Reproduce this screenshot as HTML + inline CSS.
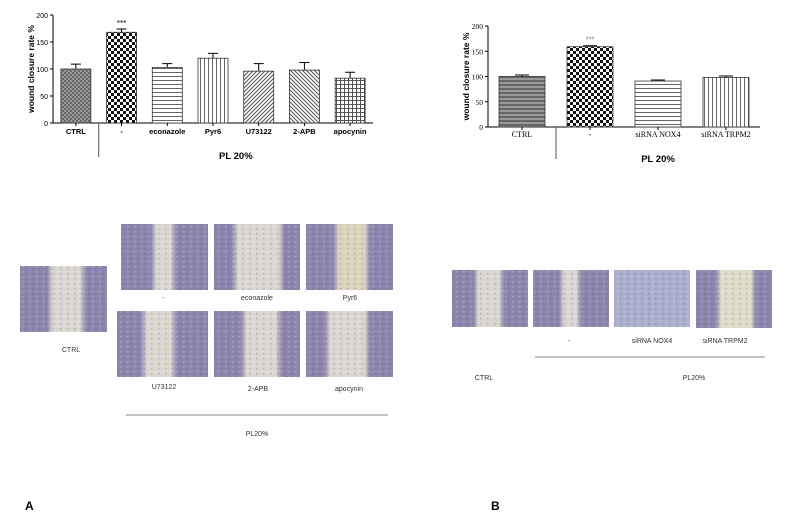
<!DOCTYPE html>
<html><head><meta charset="utf-8"><style>
body{margin:0;background:#fff;}
svg{display:block;font-family:"Liberation Sans",sans-serif;}
</style></head><body>
<svg id="fig" width="790" height="531" viewBox="0 0 790 531">
<defs>
<pattern id="pCtrl" width="4" height="4" patternUnits="userSpaceOnUse"><rect width="4" height="4" fill="#999"/><rect width="2" height="2" fill="#666"/><rect x="2" y="2" width="2" height="2" fill="#666"/></pattern>
<pattern id="pCheck" width="6" height="6" patternUnits="userSpaceOnUse"><rect width="6" height="6" fill="#fff"/><rect width="3" height="3" fill="#111"/><rect x="3" y="3" width="3" height="3" fill="#111"/></pattern>
<pattern id="pH" width="4" height="4" patternUnits="userSpaceOnUse"><rect width="4" height="4" fill="#fff"/><rect width="4" height="1" fill="#666"/></pattern>
<pattern id="pV" width="4" height="4" patternUnits="userSpaceOnUse"><rect width="4" height="4" fill="#fff"/><rect width="1" height="4" fill="#666"/></pattern>
<pattern id="pD1" width="4" height="4" patternUnits="userSpaceOnUse"><rect width="4" height="4" fill="#fff"/><path d="M0 4L4 0M-1 1L1 -1M3 5L5 3" stroke="#555" stroke-width="1"/></pattern>
<pattern id="pD2" width="4" height="4" patternUnits="userSpaceOnUse"><rect width="4" height="4" fill="#fff"/><path d="M0 0L4 4M-1 3L1 5M3 -1L5 1" stroke="#555" stroke-width="1"/></pattern>
<pattern id="pGrid" width="4" height="4" patternUnits="userSpaceOnUse"><rect width="4" height="4" fill="#fff"/><rect width="4" height="1" fill="#555"/><rect width="1" height="4" fill="#555"/></pattern>
<pattern id="pCtrlB" width="4" height="4" patternUnits="userSpaceOnUse"><rect width="4" height="4" fill="#999"/><rect width="4" height="2" fill="#666"/></pattern>
<pattern id="speck" width="7" height="5" patternUnits="userSpaceOnUse"><rect x="1" y="1" width="1.5" height="1.5" fill="#fff" opacity="0.25"/><rect x="4" y="3" width="1.5" height="1.5" fill="#4a4470" opacity="0.25"/></pattern>
</defs>
<g id="chartA"></g>
<g id="chartB"></g>
<g id="photos"></g>
<text x="25" y="510" font-size="12" font-weight="bold">A</text>
<text x="491" y="510" font-size="12" font-weight="bold">B</text>
</svg>
<script>
const catsA=["CTRL","-","econazole","Pyr6","U73122","2-APB","apocynin"];
const valsA=[100,168,103,120,96,98,83];
const errsA=[9,6,7,9,14,14,11];
const catsB=["CTRL","-","siRNA NOX4","siRNA TRPM2"];
const valsB=[100,159,91,98];
const errsB=[3,2,2,3];
const ticks=[0,50,100,150,200];
const NS="http://www.w3.org/2000/svg";
function mk(p,t,a,txt){const e=document.createElementNS(NS,t);for(const k in a)e.setAttribute(k,a[k]);if(txt!=null)e.textContent=txt;p.appendChild(e);return e;}

function chart(gid,cfg,cats,vals,errs,fills,tag){
  const g=document.getElementById(gid);
  const y=v=>cfg.y0-(v/200)*(cfg.y0-cfg.y200);
  const n=cats.length, step=(cfg.xEnd-cfg.x0)/n;
  const xc=i=>cfg.x0+step*(i+0.5);
  let ax=mk(g,'line',{x1:cfg.x0,y1:cfg.y200,x2:cfg.x0,y2:cfg.y0,stroke:'#000','stroke-width':1});
  
  let bx=mk(g,'line',{x1:cfg.x0,y1:cfg.y0,x2:cfg.xEnd,y2:cfg.y0,stroke:'#000','stroke-width':1});
  
  ticks.forEach(t=>{
    const tl=mk(g,'line',{x1:cfg.x0-3,x2:cfg.x0,y1:y(t),y2:y(t),stroke:'#000'});
    
    const tt=mk(g,'text',{x:cfg.x0-5,y:y(t)+3,'font-size':cfg.tfs,'text-anchor':'end','font-family':cfg.font},t);
    
  });
  const yt=mk(g,'text',{x:0,y:0,'font-size':8.5,'font-weight':'bold','text-anchor':'middle',transform:`translate(${cfg.x0-19},${(cfg.y0+cfg.y200)/2}) rotate(-90)`},'wound closure rate %');
  
  cats.forEach((c,i)=>{
    const x=xc(i)-cfg.bw/2, top=y(vals[i]);
    const eb=mk(g,'path',{d:`M${xc(i)} ${top}V${y(vals[i]+errs[i])}M${xc(i)-cfg.cap} ${y(vals[i]+errs[i])}H${xc(i)+cfg.cap}`,stroke:'#000',fill:'none','stroke-width':1});
    
    const r=mk(g,'rect',{x:x,y:top,width:cfg.bw,height:cfg.y0-top,fill:'url(#'+fills[i]+')',stroke:'#333','stroke-width':0.8});
    
    const xl=mk(g,'line',{x1:xc(i),x2:xc(i),y1:cfg.y0,y2:cfg.y0+3,stroke:'#000'});
    
    const tl=mk(g,'text',{x:xc(i),y:cfg.y0+cfg.ly,'font-size':cfg.lfs,'font-weight':cfg.lw,'text-anchor':'middle','font-family':cfg.font},c);
    
  });
  const st=mk(g,'text',{x:xc(1),y:y(vals[1]+errs[1])-3,'font-size':8,'text-anchor':'middle',fill:cfg.starC},'***');
  
  const sep=(xc(0)+xc(1))/2;
  const vl=mk(g,'line',{x1:sep,x2:sep,y1:cfg.y0,y2:cfg.y0+cfg.sepH,stroke:'#555'});
  
  const gl=mk(g,'text',{x:(xc(1)+xc(n-1))/2,y:cfg.y0+cfg.gy,'font-size':9.5,'font-weight':'bold','text-anchor':'middle'},'PL 20%');
  
}
chart('chartA',{x0:53,xEnd:373,y0:123,y200:15,bw:30,cap:5,tfs:7,lfs:7.5,lw:'bold',ly:11,font:'"Liberation Sans",sans-serif',starC:'#000',sepH:34,gy:36},catsA,valsA,errsA,['pCtrl','pCheck','pH','pV','pD1','pD2','pGrid'],'a');
chart('chartB',{x0:488,xEnd:760,y0:127,y200:26,bw:46,cap:7,tfs:7.5,lfs:8,lw:'normal',ly:10,font:'"Liberation Serif",serif',starC:'#888',sepH:32,gy:35},catsB,valsB,errsB,['pCtrlB','pCheck','pH','pV'],'b');

const P=document.getElementById('photos');
const defs=document.querySelector('defs');
let gid=0;
function photo(x,y,w,h,l,r,name,bg){
  const id='g'+(gid++);
  const lg=mk(defs,'linearGradient',{id:id,x1:0,x2:1,y1:0,y2:0});
  const cell='#8d85ad', gap=bg||'#d9d7cf';
  [[0,cell],[l-0.04,cell],[l+0.03,gap],[r-0.03,gap],[r+0.04,cell],[1,cell]].forEach(s=>mk(lg,'stop',{offset:Math.max(0,Math.min(1,s[0])),'stop-color':s[1]}));
  const re=mk(P,'rect',{x:x,y:y,width:w,height:h,fill:'url(#'+id+')'});
  
  const sp=mk(P,'rect',{x:x,y:y,width:w,height:h,fill:'url(#speck)'});
  
}
function label(x,y,t,name){const e=mk(P,'text',{x:x,y:y,'font-size':7,'text-anchor':'middle',fill:'#333'},t);}
photo(20,266,87,66,0.35,0.72,'photo-a-ctrl');
photo(121,224,87,66,0.38,0.6,'photo-a-pl');
photo(214,224,86,66,0.25,0.78,'photo-a-econazole');
photo(306,224,87,66,0.35,0.7,'photo-a-pyr6','#dcd3bf');
photo(117,311,91,66,0.3,0.62,'photo-a-u73122');
photo(214,311,86,66,0.35,0.75,'photo-a-2apb');
photo(306,311,87,66,0.25,0.7,'photo-a-apocynin');
label(163,300,'-','label-a-pl');label(257,300,'econazole','label-a-econazole');label(350,300,'Pyr6','label-a-pyr6');
label(71,352,'CTRL','label-a-ctrl');label(164,389,'U73122','label-a-u73122');label(258,391,'2-APB','label-a-2apb');label(349,391,'apocynin','label-a-apocynin');
let l1=mk(P,'line',{x1:126,x2:388,y1:415,y2:415,stroke:'#888'});
label(257,436,'PL20%','label-a-group');
photo(452,270,76,57,0.32,0.65,'photo-b-ctrl');
photo(533,270,76,57,0.38,0.6,'photo-b-pl');
(function(){const re=mk(P,'rect',{x:614,y:270,width:76,height:57,fill:'#aab0cc'});
const sp=mk(P,'rect',{x:614,y:270,width:76,height:57,fill:'url(#speck)'});})();
photo(696,270,76,58,0.3,0.75,'photo-b-trpm2','#dcdcc8');
label(569,343,'-','label-b-pl');label(652,343,'siRNA NOX4','label-b-nox4');label(725,343,'siRNA TRPM2','label-b-trpm2');
let l2=mk(P,'line',{x1:535,x2:765,y1:357,y2:357,stroke:'#888'});
label(484,380,'CTRL','label-b-ctrl');label(694,380,'PL20%','label-b-group');
</script>
</body></html>
